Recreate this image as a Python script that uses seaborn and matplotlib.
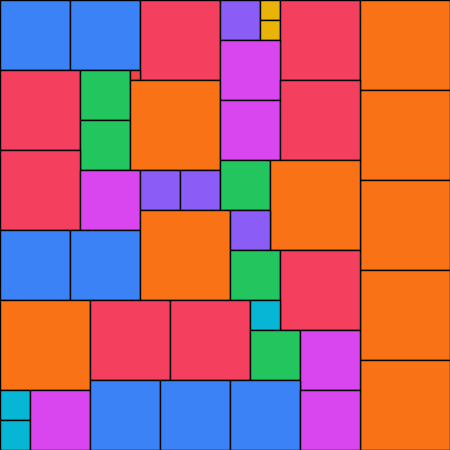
import matplotlib
matplotlib.use("Agg")
import matplotlib.pyplot as plt
import seaborn as sns

# === Datos: cuadrados (x, y esquina superior izquierda, lado) ===
xs = [0, 7, 14, 22, 26, 26, 28, 36, 36, 36, 36, 36,
      0, 8, 8, 13, 13, 22, 22, 28, 0, 8, 14, 18, 22, 27,
      0, 7, 14, 23, 23, 28, 0, 9, 17, 25, 25, 30,
      0, 0, 3, 9, 16, 23, 30]
ys = [0, 0, 0, 0, 0, 2, 0, 0, 9, 18, 27, 36,
      7, 7, 12, 7, 8, 4, 10, 8, 15, 17, 17, 17, 16, 16,
      23, 23, 21, 21, 25, 25, 30, 30, 30, 30, 33, 33,
      39, 42, 39, 38, 38, 38, 39]
sizes = [7, 7, 8, 4, 2, 2, 8, 9, 9, 9, 9, 9,
         8, 5, 5, 1, 9, 6, 6, 8, 8, 6, 4, 4, 5, 9,
         7, 7, 9, 4, 5, 8, 9, 8, 8, 3, 5, 6,
         3, 3, 6, 7, 7, 7, 6]

colores = {1: '#ef4444', 2: '#eab308', 3: '#06b6d4', 4: '#8b5cf6',
           5: '#22c55e', 6: '#d946ef', 7: '#3b82f6', 8: '#f43f5e', 9: '#f97316'}

sns.set_style("white")

fig = plt.figure(figsize=(4.5, 4.5), dpi=100)
ax = fig.add_axes([0, 0, 1, 1])
ax.bar(xs, sizes, width=sizes, bottom=ys, align='edge',
       color=[colores[s] for s in sizes], edgecolor='black', linewidth=1)
ax.set_xlim(0, 45)
ax.set_ylim(45, 0)
ax.axis('off')

fig.savefig('out.png', dpi=100)
